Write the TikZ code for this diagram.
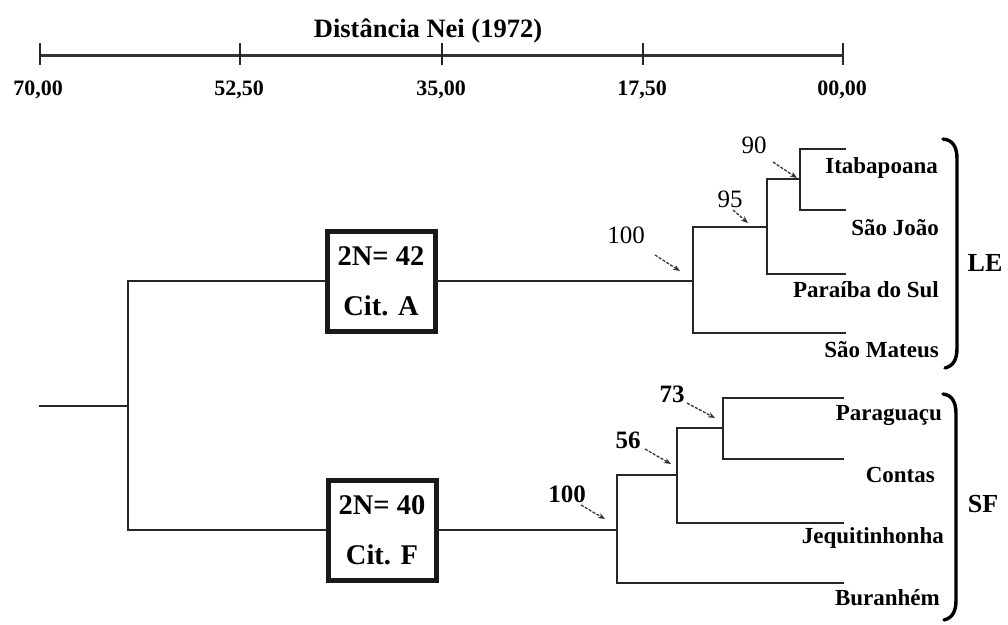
\documentclass[tikz,border=0pt]{standalone}
\usepackage{fontspec}
\setmainfont{Liberation Serif}
\usetikzlibrary{arrows.meta}
\begin{document}
\begin{tikzpicture}[x=1pt,y=-1pt,
  tree/.style={line width=2.6pt,draw=black!85,line cap=rect},
  scaleline/.style={line width=3pt,draw=black!80},
  tick/.style={line width=2.2pt,draw=black!85},
  ticklabel/.style={font=\fontsize{22}{22}\selectfont\bfseries,anchor=base,inner sep=0pt},
  leaf/.style={font=\fontsize{23}{23}\selectfont\bfseries,anchor=base east,inner sep=0pt},
  karyo/.style={draw=black!90,line width=5pt,minimum width=108pt,minimum height=100pt,inner sep=0pt,
     align=center,font=\fontsize{28.5}{50}\selectfont\bfseries,fill=white},
  boot/.style={font=\fontsize{25}{25}\selectfont,anchor=base,inner sep=0pt},
  bootb/.style={boot,font=\fontsize{25}{25}\selectfont\bfseries},
  bootarrow/.style={draw=black!80,line width=1.3pt,dash pattern=on 3pt off 1.5pt,-{Stealth[length=7pt,width=5.5pt]}},
  brack/.style={line width=3.4pt,draw=black,line cap=round},
  grp/.style={font=\fontsize{26}{26}\selectfont\bfseries,anchor=base,inner sep=0pt}]
\useasboundingbox (0,0) rectangle (1008,624);
% ---------- scale ----------
\node[font=\fontsize{26.5}{26.5}\selectfont\bfseries,anchor=base,inner sep=0pt] (title) at (428,37) {Distância Nei (1972)};
\coordinate (s0) at (40,55);
\coordinate (s1) at (240,55);
\coordinate (s2) at (442,55);
\coordinate (s3) at (643,55);
\coordinate (s4) at (843,55);
\draw[scaleline] (s0) -- (s4);
\foreach \c in {s0,s1,s2,s3,s4}{\draw[tick] ([yshift=-10pt]\c) -- ([yshift=12pt]\c);}
\node[ticklabel] (l0) at (38,95) {70,00};
\node[ticklabel] (l1) at (239,95) {52,50};
\node[ticklabel] (l2) at (441,95) {35,00};
\node[ticklabel] (l3) at (642,95) {17,50};
\node[ticklabel] (l4) at (842,95) {00,00};
% ---------- root ----------
\coordinate (root0) at (40,406);
\coordinate (root) at (128,406);
\coordinate (rt) at (128,281);
\coordinate (rb) at (128,530);
\draw[tree] (root0) -- (root);
\draw[tree] (rt) -- (rb);
% ---------- boxes ----------
\node[karyo] (boxA) at (381,281) {2N= 42\\Cit. A};
\node[karyo] (boxF) at (382,530) {2N= 40\\Cit. F};
\draw[tree] (rt) -- (boxA.west);
\draw[tree] (rb) -- (boxF.west);
% ---------- LE clade ----------
\coordinate (le100) at (693,281);
\coordinate (le100t) at (693,227);
\coordinate (le100b) at (693,333);
\coordinate (n95) at (767,227);
\coordinate (n95t) at (767,179);
\coordinate (n95b) at (767,274);
\coordinate (n90) at (800,179);
\coordinate (n90t) at (800,149);
\coordinate (n90b) at (800,210);
\coordinate (eIta) at (845,149);
\coordinate (eSJ) at (845,210);
\coordinate (ePar) at (845,274);
\coordinate (eSM) at (845,333);
\draw[tree] (boxA.east) -- (le100);
\draw[tree] (le100t) -- (le100b);
\draw[tree] (le100t) -- (n95);
\draw[tree] (n95t) -- (n95b);
\draw[tree] (n95t) -- (n90);
\draw[tree] (n90t) -- (n90b);
\draw[tree] (n90t) -- (eIta);
\draw[tree] (n90b) -- (eSJ);
\draw[tree] (n95b) -- (ePar);
\draw[tree] (le100b) -- (eSM);
\node[leaf] (Ita) at (938,173) {Itabapoana};
\node[leaf] (SJ) at (939,235) {São João};
\node[leaf] (PS) at (939,297) {Paraíba do Sul};
\node[leaf] (SM) at (939,357) {São Mateus};
% ---------- SF clade ----------
\coordinate (sf100) at (617,530);
\coordinate (sf100t) at (617,475);
\coordinate (sf100b) at (617,583);
\coordinate (n56) at (677,475);
\coordinate (n56t) at (677,428);
\coordinate (n56b) at (677,523);
\coordinate (n73) at (723,428);
\coordinate (n73t) at (723,398);
\coordinate (n73b) at (723,459);
\coordinate (ePg) at (843,398);
\coordinate (eCo) at (843,459);
\coordinate (eJq) at (843,523);
\coordinate (eBu) at (843,583);
\draw[tree] (boxF.east) -- (sf100);
\draw[tree] (sf100t) -- (sf100b);
\draw[tree] (sf100t) -- (n56);
\draw[tree] (n56t) -- (n56b);
\draw[tree] (n56t) -- (n73);
\draw[tree] (n73t) -- (n73b);
\draw[tree] (n73t) -- (ePg);
\draw[tree] (n73b) -- (eCo);
\draw[tree] (n56b) -- (eJq);
\draw[tree] (sf100b) -- (eBu);
\node[leaf] (Pg) at (942,420) {Paraguaçu};
\node[leaf] (Co) at (935,482) {Contas};
\node[leaf] (Jq) at (944,543) {Jequitinhonha};
\node[leaf] (Bu) at (940,605) {Buranhém};
% ---------- bootstrap values ----------
\node[boot] (b90) at (754,153) {90};
\node[boot] (b95) at (730,207) {95};
\node[boot] (b100a) at (626,243) {100};
\node[bootb] (b73) at (672,402) {73};
\node[bootb] (b56) at (628,448) {56};
\node[bootb] (b100f) at (567,502) {100};
\coordinate (a90s) at (773,162); \coordinate (a90e) at (797,178);
\coordinate (a95s) at (733,210); \coordinate (a95e) at (748,223);
\coordinate (a100as) at (655,255); \coordinate (a100ae) at (680,271);
\coordinate (a73s) at (687,403); \coordinate (a73e) at (715,418);
\coordinate (a56s) at (645,449); \coordinate (a56e) at (671,464);
\coordinate (a100fs) at (581,505); \coordinate (a100fe) at (605,519);
\draw[bootarrow] (a90s) -- (a90e);
\draw[bootarrow] (a95s) -- (a95e);
\draw[bootarrow] (a100as) -- (a100ae);
\draw[bootarrow] (a73s) -- (a73e);
\draw[bootarrow] (a56s) -- (a56e);
\draw[bootarrow] (a100fs) -- (a100fe);
% ---------- brackets ----------
\draw[brack] (943,139) .. controls (953,140) and (957,147) .. (957,159) -- (957,348) .. controls (957,360) and (953,366) .. (945,368);
\draw[brack] (943,394) .. controls (952,395) and (956,402) .. (956,414) -- (956,600) .. controls (956,612) and (952,618) .. (944,620);
\node[grp] (LE) at (985,271) {LE};
\node[grp] (SF) at (983,512) {SF};
\end{tikzpicture}
\end{document}
